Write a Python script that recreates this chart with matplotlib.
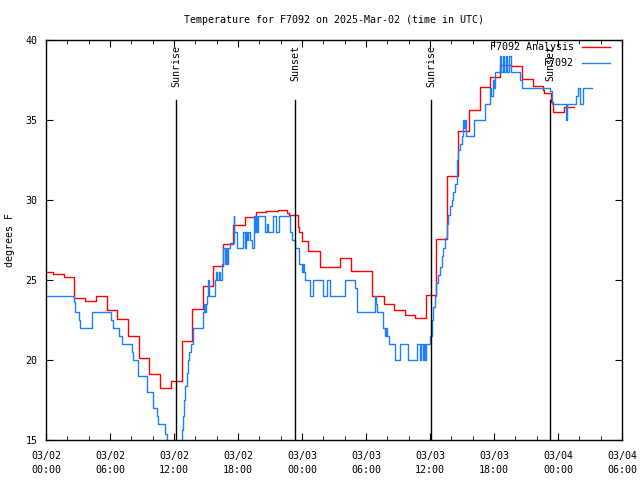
import matplotlib
matplotlib.use("Agg")
import matplotlib.pyplot as plt

# Hours since 2025-03-02 00:00 UTC
analysis_hours = [0, 0.69, 1.7, 2.66, 3.69, 4.69, 5.69, 6.66, 7.66, 8.69, 9.69,
                  10.72, 11.75, 12.72, 13.68, 14.72, 15.69, 16.6, 17.56, 18.66,
                  19.69, 20.6, 21.78, 22.6, 22.75, 23.66, 23.75, 23.97, 24.6,
                  25.65, 27.58, 28.56, 30.6, 31.65, 32.6, 33.65, 34.6, 35.6,
                  36.6, 37.6, 38.66, 39.7, 40.69, 41.6, 42.6, 43.6, 44.6, 45.65,
                  46.6, 46.69, 47.3, 47.56, 48.6, 49.53]
analysis_temp = [25.5, 25.4, 25.2, 23.85, 23.7, 24.0, 23.1, 22.55, 21.5, 20.15,
                 19.15, 18.25, 18.67, 21.2, 23.2, 24.6, 25.9, 27.23, 28.44, 28.92,
                 29.22, 29.3, 29.36, 29.2, 29.05, 28.3, 28.0, 27.45, 26.8, 25.8,
                 26.35, 25.58, 24.0, 23.52, 23.12, 22.8, 22.6, 24.05, 27.55, 31.5,
                 34.33, 35.6, 37.04, 37.69, 38.44, 38.375, 37.54, 37.125, 36.9,
                 36.67, 36.1, 35.52, 35.79, 35.79]

obs_hours = [0, 2.66, 2.75, 3.12, 3.22, 4.28, 6.09, 6.25, 6.875, 7.125, 8.06,
             8.19, 8.59, 9.44, 10.06, 10.4, 10.53, 11.16, 11.3, 12.75, 12.87,
             12.97, 13.06, 13.19, 13.28, 13.44, 13.56, 13.8, 14.75, 14.84, 14.9,
             14.97, 15.06, 15.15, 15.25, 15.31, 15.84, 15.95, 16.06, 16.25, 16.3,
             16.47, 16.62, 16.75, 16.85, 16.95, 17.05, 17.25, 17.6, 17.66, 17.875,
             18.5, 18.65, 18.75, 18.85, 18.95, 19.1, 19.28, 19.5, 19.6, 19.7,
             19.8, 19.9, 20.53, 20.7, 20.8, 21.3, 21.6, 21.875, 22.875, 23.1,
             23.34, 23.75, 23.97, 24.06, 24.15, 24.28, 24.75, 25.0, 26.0, 26.3,
             26.6, 28.03, 28.97, 29.2, 30.84, 30.95, 31.06, 31.56, 31.8, 31.9,
             32.0, 32.2, 32.7, 33.2, 33.97, 34.8, 35.1, 35.2, 35.3, 35.4, 35.5,
             35.6, 36.0, 36.16, 36.3, 36.47, 36.6, 36.78, 36.94, 37.1, 37.25,
             37.4, 37.56, 37.72, 37.9, 38.03, 38.2, 38.34, 38.5, 38.66, 38.8,
             38.97, 39.1, 39.2, 39.27, 39.37, 40.1, 41.16, 41.6, 41.75, 41.9,
             42.0, 42.1, 42.56, 42.7, 42.8, 42.95, 43.1, 43.25, 43.4, 43.55,
             44.44, 44.6, 47.25, 47.4, 48.75, 48.8, 49.69, 49.9, 50.1, 50.3,
             51.16]
obs_temp = [24, 23.6, 23, 22.5, 22, 23, 22.5, 22, 21.5, 21, 20.5, 20, 19, 18,
            17, 16.5, 16, 15.4, 14, 15.6, 16.5, 17.5, 18.4, 19.2, 20, 20.5, 21,
            22, 23, 23.5, 23, 23.5, 24, 25, 24.6, 24, 25, 25.5, 25, 25.5, 25,
            26, 27, 26, 27, 26, 27, 27.3, 29, 28, 27, 28, 27, 28, 27.5, 28,
            27.5, 27, 29, 28, 29, 28, 29, 28, 28.5, 28, 29, 28, 29, 28, 27.5,
            27, 26, 25.5, 26, 25.5, 25, 24, 25, 24, 25, 24, 25, 24.5, 23, 24,
            23.5, 23, 22, 21.5, 22, 21.5, 21, 20, 21, 20, 21, 20, 21, 20, 21,
            20, 21, 21.5, 22.5, 23.3, 24, 24.8, 25.3, 25.8, 26.5, 27, 27.6,
            28.5, 29.06, 29.6, 30, 30.5, 31, 32.5, 33.1, 33.5, 34, 35, 34.5,
            35, 34, 35, 36, 37, 36.5, 37.5, 37, 38, 39, 38, 39, 38, 39, 38, 39,
            38, 37.5, 37, 36.8, 36, 35, 36, 36.5, 37, 36, 37, 37]

sun_events = ["Sunrise", "Sunset", "Sunrise", "Sunset"]
sun_hours = [12.19, 23.34, 36.1, 47.25]

tick_hours = [0, 6, 12, 18, 24, 30, 36, 42, 48, 54]
tick_labels = ["03/02\n00:00", "03/02\n06:00", "03/02\n12:00", "03/02\n18:00",
               "03/03\n00:00", "03/03\n06:00", "03/03\n12:00", "03/03\n18:00",
               "03/04\n00:00", "03/04\n06:00"]

plt.rcParams["font.family"] = "DejaVu Sans Mono"
plt.rcParams["font.size"] = 7.2

fig = plt.figure(figsize=(6.4, 4.8), dpi=100)
ax = fig.add_axes([46 / 640, 40 / 480, 576 / 640, 400 / 480])

ax.plot(analysis_hours, analysis_temp, drawstyle="steps-post",
        color="#ff0000", lw=1.0, label="F7092 Analysis")
ax.plot(obs_hours, obs_temp, drawstyle="steps-post",
        color="#1a80ff", lw=1.0, label="F7092")

# sunrise / sunset markers
for name, h in zip(sun_events, sun_hours):
    ax.plot([h, h], [15, 36.25], color="black", lw=1.0)
    ax.text(h, 39.7, name, rotation=90, ha="center", va="top")

ax.set_xlim(0, 54)
ax.set_ylim(15, 40)
ax.set_xticks(tick_hours)
ax.set_xticklabels(tick_labels, linespacing=1.5)
ax.set_xticks(range(0, 55, 2), minor=True)
ax.set_yticks(range(15, 41, 5))
ax.tick_params(which="both", direction="in", top=True, right=True,
               labelsize=7.2)
ax.tick_params(axis="x", pad=8)
ax.tick_params(axis="y", pad=6)
ax.tick_params(which="major", length=5)
ax.tick_params(which="minor", length=3)
for s in ax.spines.values():
    s.set_linewidth(1.0)

ax.set_ylabel("degrees F", labelpad=8)
ax.set_title("Temperature for F7092 on 2025-Mar-02 (time in UTC)",
             fontsize=7.2, pad=12)
ax.legend(loc="upper right", bbox_to_anchor=(0.986, 1.005), frameon=False,
          markerfirst=False, handlelength=2.8, handletextpad=0.8,
          borderaxespad=0, labelspacing=0.65, fontsize=7.2)

fig.savefig("out.png", dpi=100)
